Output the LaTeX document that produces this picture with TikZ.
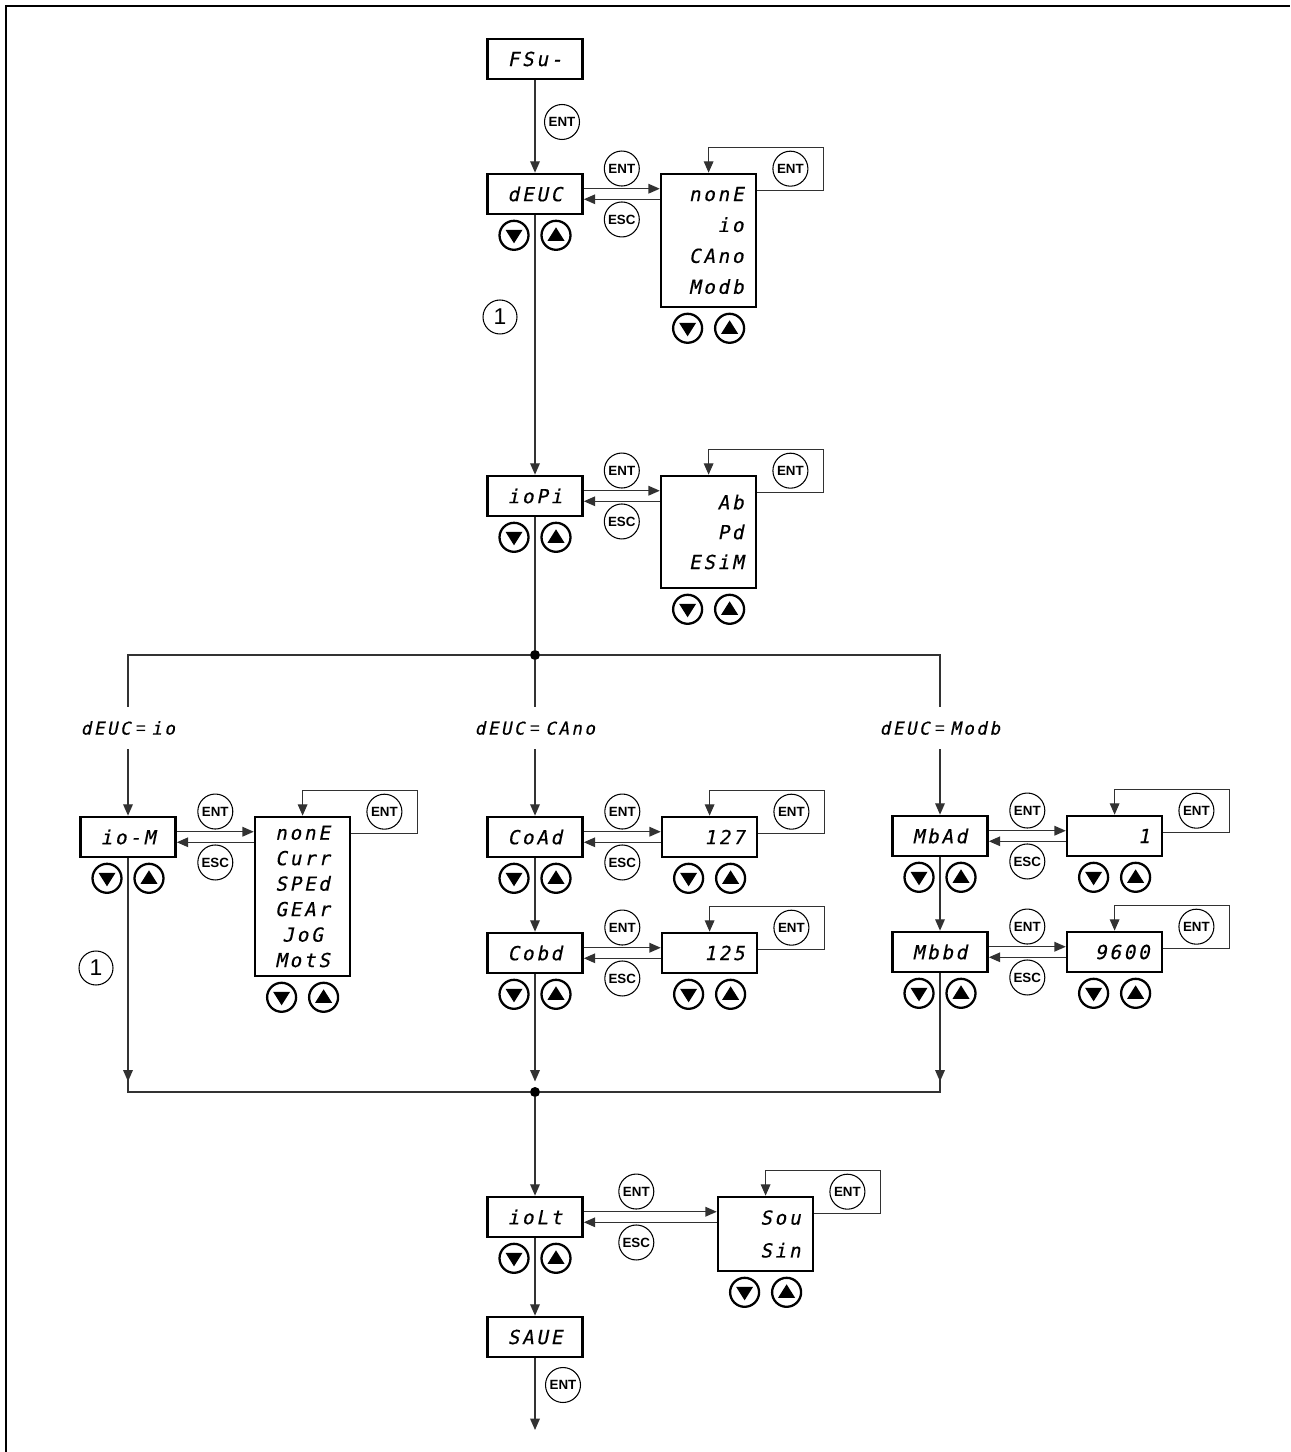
\documentclass[tikz,border=0pt]{standalone}
\usepackage{fontspec}
\setmainfont{Liberation Sans}
\newfontfamily\segfont{DejaVu Sans Mono}[FakeSlant=0.2,LetterSpace=14,FakeBold=0.4]
\usetikzlibrary{positioning,arrows.meta,calc}
\definecolor{cLine}{RGB}{50,50,50}

\begin{document}
\begin{tikzpicture}[x=0.02cm,y=-0.02cm]
\tikzset{
  disp/.style={draw,line width=1.5pt,minimum width=1.9cm,minimum height=0.8cm,inner sep=0pt,font=\segfont\fontsize{11}{12}\selectfont},
  val/.style={disp,text width=1.4cm,align=right},
  menu/.style={disp,anchor=north west,text width=1.4cm,align=right,font=\segfont\fontsize{11}{#1}\selectfont},
  key/.style={circle,draw,line width=0.6pt,minimum size=0.7cm,inner sep=0pt,font=\bfseries\fontsize{7.6}{8}\selectfont},
  btn/.style={circle,draw,line width=1.3pt,minimum size=0.58cm,inner sep=0pt},
  btndn/.style={btn,path picture={\fill ($(path picture bounding box.center)+(-0.17cm,0.11cm)$) -- ++(0.34cm,0cm) -- ++(-0.17cm,-0.27cm) -- cycle;}},
  btnup/.style={btn,path picture={\fill ($(path picture bounding box.center)+(-0.17cm,-0.11cm)$) -- ++(0.34cm,0cm) -- ++(-0.17cm,0.27cm) -- cycle;}},
  num/.style={circle,draw,line width=0.6pt,minimum size=0.68cm,inner sep=0pt,font=\fontsize{13}{13}\selectfont},
  cond/.style={inner xsep=0pt,inner ysep=8pt,font=\segfont\fontsize{10}{11}\selectfont},
  dot/.style={circle,fill,minimum size=0.2cm,inner sep=0pt},
  ln/.style={draw=cLine,line width=0.75pt},
  arr/.style={ln,-{Triangle[length=6.5pt,width=5.5pt]}}
}
\useasboundingbox (0,0) rectangle (1290,1452);
\draw[line width=0.7pt] (6,1452) -- (6,6) -- (1290,6);

% main column
\node[disp] (fsu) at (535,59) {FSu-};
\node[disp] (devc) at (535,194) {dEUC};
\node[disp] (iopi) at (535,496) {ioPi};
\node[dot] (split) at (535,655) {};
\node[cond] (lio) at (128,728) {dEUC\hspace{3pt}{\normalfont=}\hspace{3pt}io};
\node[cond] (lcan) at (535,728) {dEUC\hspace{3pt}{\normalfont=}\hspace{3pt}CAno};
\node[cond] (lmod) at (940,728) {dEUC\hspace{3pt}{\normalfont=}\hspace{3pt}Modb};
\node[disp] (iom) at (128,837) {io-M};
\node[disp] (coad) at (535,837) {CoAd};
\node[disp] (cobd) at (535,953) {Cobd};
\node[disp] (mbad) at (940,836) {MbAd};
\node[disp] (mbbd) at (940,952) {Mbbd};
\node[dot] (join) at (535,1092) {};
\node[disp] (iolt) at (535,1217) {ioLt};
\node[disp] (save) at (535,1337) {SAUE};
\coordinate (fin) at (535,1430);

% value lists
\node[menu=17.6,minimum height=2.66cm] (devcl) at ($(devc.north east)+(1.52cm,0cm)$) {nonE\\io\\CAno\\Modb};
\node[menu=17,minimum height=2.24cm] (iopil) at ($(iopi.north east)+(1.52cm,0cm)$) {Ab\\Pd\\ESiM};
\node[menu=14.5,minimum height=3.18cm,align=center] (ioml) at ($(iom.north east)+(1.54cm,0cm)$) {nonE\\Curr\\SPEd\\GEAr\\JoG\\MotS};
\node[val,right=1.54cm of coad] (coadv) {127};
\node[val,right=1.54cm of cobd] (cobdv) {125};
\node[val,right=1.54cm of mbad] (mbadv) {1};
\node[val,right=1.54cm of mbbd] (mbbdv) {9600};
\node[menu=18.7,minimum height=1.48cm] (ioltl) at ($(iolt.north east)+(2.66cm,0cm)$) {Sou\\Sin};

% spine
\draw[arr] (fsu) -- (devc);
\draw[arr] (devc) -- (iopi);
\draw[ln] (iopi) -- (split);
\draw[ln] (split) -| (lio);
\draw[ln] (split) -| (lmod);
\draw[ln] (split) -- (lcan);
\draw[arr] (lio) -- (iom);
\draw[arr] (lcan) -- (coad);
\draw[arr] (coad) -- (cobd);
\draw[arr] (lmod) -- (mbad);
\draw[arr] (mbad) -- (mbbd);
\draw[ln] (iom) |- (join) -| (mbbd);
\draw[arr] (iom) -- ($(iom |- join)+(0cm,6pt)$);
\draw[arr] (cobd) -- ($(join)+(0cm,6pt)$);
\draw[arr] (mbbd) -- ($(mbbd |- join)+(0cm,6pt)$);
\draw[arr] (join) -- (iolt);
\draw[arr] (iolt) -- (save);
\draw[arr] (save) -- (fin);
\node[key] (kfsu) at (562,122) {ENT};
\node[key] (ksave) at (563,1385) {ENT};
\node[num] (note1) at (500,317) {1};
\node[num] (note2) at (96,968) {1};

% enter / escape between a parameter and its values
\draw[arr] ($(devc.east)+(0cm,3pt)$) -- ($(devc.east -| devcl.west)+(0cm,3pt)$);
\draw[arr] ($(devc.east -| devcl.west)+(0cm,-3pt)$) -- ($(devc.east)+(0cm,-3pt)$);
\draw[arr] ($(devcl.north east)+(0cm,-0.36cm)$) -| ++(1.32cm,0.86cm) -| (devcl.north);
\node[key] (devcent) at ($(devc.east)!.5!(devc.east -| devcl.west)+(0cm,14.5pt)$) {ENT};
\node[key] (devcesc) at ($(devc.east)!.5!(devc.east -| devcl.west)+(0cm,-14.5pt)$) {ESC};
\node[key] (devcloop) at ($(devcl.north east)+(0.66cm,0.08cm)$) {ENT};

\draw[arr] ($(iopi.east)+(0cm,3pt)$) -- ($(iopi.east -| iopil.west)+(0cm,3pt)$);
\draw[arr] ($(iopi.east -| iopil.west)+(0cm,-3pt)$) -- ($(iopi.east)+(0cm,-3pt)$);
\draw[arr] ($(iopil.north east)+(0cm,-0.36cm)$) -| ++(1.32cm,0.86cm) -| (iopil.north);
\node[key] (iopient) at ($(iopi.east)!.5!(iopi.east -| iopil.west)+(0cm,14.5pt)$) {ENT};
\node[key] (iopiesc) at ($(iopi.east)!.5!(iopi.east -| iopil.west)+(0cm,-14.5pt)$) {ESC};
\node[key] (iopiloop) at ($(iopil.north east)+(0.66cm,0.08cm)$) {ENT};

\draw[arr] ($(iom.east)+(0cm,3pt)$) -- ($(iom.east -| ioml.west)+(0cm,3pt)$);
\draw[arr] ($(iom.east -| ioml.west)+(0cm,-3pt)$) -- ($(iom.east)+(0cm,-3pt)$);
\draw[arr] ($(ioml.north east)+(0cm,-0.36cm)$) -| ++(1.32cm,0.86cm) -| (ioml.north);
\node[key] (ioment) at ($(iom.east)!.5!(iom.east -| ioml.west)+(0cm,14.5pt)$) {ENT};
\node[key] (iomesc) at ($(iom.east)!.5!(iom.east -| ioml.west)+(0cm,-14.5pt)$) {ESC};
\node[key] (iomloop) at ($(ioml.north east)+(0.66cm,0.08cm)$) {ENT};

\draw[arr] ($(coad.east)+(0cm,3pt)$) -- ($(coadv.west)+(0cm,3pt)$);
\draw[arr] ($(coadv.west)+(0cm,-3pt)$) -- ($(coad.east)+(0cm,-3pt)$);
\draw[arr] ($(coadv.north east)+(0cm,-0.36cm)$) -| ++(1.32cm,0.86cm) -| (coadv.north);
\node[key] (coadent) at ($(coad.east)!.5!(coadv.west)+(0cm,14.5pt)$) {ENT};
\node[key] (coadesc) at ($(coad.east)!.5!(coadv.west)+(0cm,-14.5pt)$) {ESC};
\node[key] (coadloop) at ($(coadv.north east)+(0.66cm,0.08cm)$) {ENT};

\draw[arr] ($(cobd.east)+(0cm,3pt)$) -- ($(cobdv.west)+(0cm,3pt)$);
\draw[arr] ($(cobdv.west)+(0cm,-3pt)$) -- ($(cobd.east)+(0cm,-3pt)$);
\draw[arr] ($(cobdv.north east)+(0cm,-0.36cm)$) -| ++(1.32cm,0.86cm) -| (cobdv.north);
\node[key] (cobdent) at ($(cobd.east)!.5!(cobdv.west)+(0cm,14.5pt)$) {ENT};
\node[key] (cobdesc) at ($(cobd.east)!.5!(cobdv.west)+(0cm,-14.5pt)$) {ESC};
\node[key] (cobdloop) at ($(cobdv.north east)+(0.66cm,0.08cm)$) {ENT};

\draw[arr] ($(mbad.east)+(0cm,3pt)$) -- ($(mbadv.west)+(0cm,3pt)$);
\draw[arr] ($(mbadv.west)+(0cm,-3pt)$) -- ($(mbad.east)+(0cm,-3pt)$);
\draw[arr] ($(mbadv.north east)+(0cm,-0.36cm)$) -| ++(1.32cm,0.86cm) -| (mbadv.north);
\node[key] (mbadent) at ($(mbad.east)!.5!(mbadv.west)+(0cm,14.5pt)$) {ENT};
\node[key] (mbadesc) at ($(mbad.east)!.5!(mbadv.west)+(0cm,-14.5pt)$) {ESC};
\node[key] (mbadloop) at ($(mbadv.north east)+(0.66cm,0.08cm)$) {ENT};

\draw[arr] ($(mbbd.east)+(0cm,3pt)$) -- ($(mbbdv.west)+(0cm,3pt)$);
\draw[arr] ($(mbbdv.west)+(0cm,-3pt)$) -- ($(mbbd.east)+(0cm,-3pt)$);
\draw[arr] ($(mbbdv.north east)+(0cm,-0.36cm)$) -| ++(1.32cm,0.86cm) -| (mbbdv.north);
\node[key] (mbbdent) at ($(mbbd.east)!.5!(mbbdv.west)+(0cm,14.5pt)$) {ENT};
\node[key] (mbbdesc) at ($(mbbd.east)!.5!(mbbdv.west)+(0cm,-14.5pt)$) {ESC};
\node[key] (mbbdloop) at ($(mbbdv.north east)+(0.66cm,0.08cm)$) {ENT};

\draw[arr] ($(iolt.east)+(0cm,3pt)$) -- ($(iolt.east -| ioltl.west)+(0cm,3pt)$);
\draw[arr] ($(iolt.east -| ioltl.west)+(0cm,-3pt)$) -- ($(iolt.east)+(0cm,-3pt)$);
\draw[arr] ($(ioltl.north east)+(0cm,-0.36cm)$) -| ++(1.32cm,0.86cm) -| (ioltl.north);
\node[key] (ioltent) at ($(iolt.east)!.5!(iolt.east -| ioltl.west)+(-0.28cm,14.5pt)$) {ENT};
\node[key] (ioltesc) at ($(iolt.east)!.5!(iolt.east -| ioltl.west)+(-0.28cm,-14.5pt)$) {ESC};
\node[key] (ioltloop) at ($(ioltl.north east)+(0.66cm,0.08cm)$) {ENT};

% up / down keys
\node[btndn] (devcdn) at ($(devc.south)+(-0.42cm,-0.4cm)$) {}; \node[btnup] (devcup) at ($(devc.south)+(0.42cm,-0.4cm)$) {};
\node[btndn] (devcldn) at ($(devcl.south)+(-0.42cm,-0.4cm)$) {}; \node[btnup] (devclup) at ($(devcl.south)+(0.42cm,-0.4cm)$) {};
\node[btndn] (iopidn) at ($(iopi.south)+(-0.42cm,-0.4cm)$) {}; \node[btnup] (iopiup) at ($(iopi.south)+(0.42cm,-0.4cm)$) {};
\node[btndn] (iopildn) at ($(iopil.south)+(-0.42cm,-0.4cm)$) {}; \node[btnup] (iopilup) at ($(iopil.south)+(0.42cm,-0.4cm)$) {};
\node[btndn] (iomdn) at ($(iom.south)+(-0.42cm,-0.4cm)$) {}; \node[btnup] (iomup) at ($(iom.south)+(0.42cm,-0.4cm)$) {};
\node[btndn] (iomldn) at ($(ioml.south)+(-0.42cm,-0.4cm)$) {}; \node[btnup] (iomlup) at ($(ioml.south)+(0.42cm,-0.4cm)$) {};
\node[btndn] (coaddn) at ($(coad.south)+(-0.42cm,-0.4cm)$) {}; \node[btnup] (coadup) at ($(coad.south)+(0.42cm,-0.4cm)$) {};
\node[btndn] (coadvdn) at ($(coadv.south)+(-0.42cm,-0.4cm)$) {}; \node[btnup] (coadvup) at ($(coadv.south)+(0.42cm,-0.4cm)$) {};
\node[btndn] (cobddn) at ($(cobd.south)+(-0.42cm,-0.4cm)$) {}; \node[btnup] (cobdup) at ($(cobd.south)+(0.42cm,-0.4cm)$) {};
\node[btndn] (cobdvdn) at ($(cobdv.south)+(-0.42cm,-0.4cm)$) {}; \node[btnup] (cobdvup) at ($(cobdv.south)+(0.42cm,-0.4cm)$) {};
\node[btndn] (mbaddn) at ($(mbad.south)+(-0.42cm,-0.4cm)$) {}; \node[btnup] (mbadup) at ($(mbad.south)+(0.42cm,-0.4cm)$) {};
\node[btndn] (mbadvdn) at ($(mbadv.south)+(-0.42cm,-0.4cm)$) {}; \node[btnup] (mbadvup) at ($(mbadv.south)+(0.42cm,-0.4cm)$) {};
\node[btndn] (mbbddn) at ($(mbbd.south)+(-0.42cm,-0.4cm)$) {}; \node[btnup] (mbbdup) at ($(mbbd.south)+(0.42cm,-0.4cm)$) {};
\node[btndn] (mbbdvdn) at ($(mbbdv.south)+(-0.42cm,-0.4cm)$) {}; \node[btnup] (mbbdvup) at ($(mbbdv.south)+(0.42cm,-0.4cm)$) {};
\node[btndn] (ioltdn) at ($(iolt.south)+(-0.42cm,-0.4cm)$) {}; \node[btnup] (ioltup) at ($(iolt.south)+(0.42cm,-0.4cm)$) {};
\node[btndn] (ioltldn) at ($(ioltl.south)+(-0.42cm,-0.4cm)$) {}; \node[btnup] (ioltlup) at ($(ioltl.south)+(0.42cm,-0.4cm)$) {};
\end{tikzpicture}
\end{document}
